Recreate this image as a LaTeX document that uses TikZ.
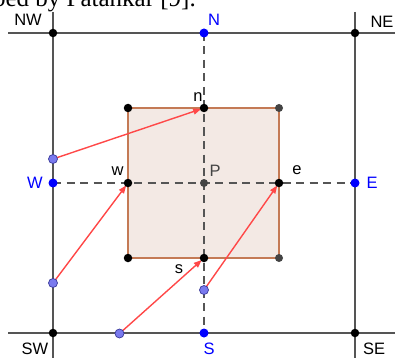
\documentclass[tikz,border=0pt]{standalone}
\usepackage{fontspec}
\setmainfont{Liberation Sans}
\newfontfamily\capfont{Liberation Serif}
\usetikzlibrary{arrows.meta}
\pgfdeclarelayer{bg}
\pgfdeclarelayer{mid}
\pgfsetlayers{bg,mid,main}
\definecolor{gridgray}{HTML}{555555}
\definecolor{cvfill}{HTML}{F3E9E4}
\definecolor{cvedge}{HTML}{C47A55}
\definecolor{arrowred}{HTML}{FF4848}
\definecolor{lav}{HTML}{7A7AEE}
\definecolor{lavedge}{HTML}{3A3A9A}
\definecolor{nodeblue}{HTML}{0000FF}
\definecolor{pgray}{HTML}{444444}
\tikzset{
  gridline/.style={draw=gridgray, line width=1.5pt},
  dashline/.style={draw=gridgray, line width=1.4pt, dash pattern=on 8pt off 5.5pt},
  cvline/.style={draw=cvedge, line width=1.9pt},
  flux/.style={draw=arrowred, line width=1.4pt, shorten >=3pt, -{Triangle[length=8pt,width=6pt]}},
  blackdot/.style={circle, fill=black, inner sep=0pt, minimum size=8.5pt},
  graydot/.style={circle, fill=pgray, inner sep=0pt, minimum size=8pt},
  bluedot/.style={circle, fill=nodeblue, inner sep=0pt, minimum size=9pt},
  lavdot/.style={circle, fill=lav, draw=lavedge, line width=0.7pt, inner sep=0pt, minimum size=9pt},
  lbl/.style={font=\fontsize{16.5}{18}\selectfont, inner sep=0pt},
  bluelbl/.style={lbl, text=nodeblue},
}
\begin{document}
\begin{tikzpicture}[x=1pt,y=-1pt]
\useasboundingbox (0,0) rectangle (395,358);
\clip (0,0) rectangle (395,358);
% caption fragment (cut by the top edge, as in the reference)
\node[anchor=base east, inner sep=0pt, font=\capfont\fontsize{25}{30}\selectfont] (cap) at (196,6.5) {described by Patankar [9].};
% free ends of the grid lines
\coordinate (Lt) at (53,12);  \coordinate (Lb) at (53,358);
\coordinate (Rt) at (355,12); \coordinate (Rb) at (355,358);
\coordinate (Tl) at (8,33);   \coordinate (Tr) at (395,33);
\coordinate (Bl) at (8,333);  \coordinate (Br) at (395,333);
% points
\node[bluedot] (N) at (204,33) {};
\node[bluedot] (S) at (204,333) {};
\node[bluedot] (W) at (53,183) {};
\node[bluedot] (E) at (355,183) {};
\node[blackdot] (NW) at (53,33) {};
\node[blackdot] (NE) at (355,33) {};
\node[blackdot] (SW) at (53,333) {};
\node[blackdot] (SE) at (355,333) {};
\node[blackdot] (n) at (204,108) {};
\node[blackdot] (s) at (204,258) {};
\node[blackdot] (w) at (128,183) {};
\node[blackdot] (e) at (279,183) {};
\node[graydot] (P) at (204,183) {};
\node[blackdot] (c1) at (128,108) {};
\node[graydot] (c2) at (279,108) {};
\node[blackdot] (c3) at (128,258) {};
\node[graydot] (c4) at (279,258) {};
\node[lavdot] (a1) at (53,159) {};
\node[lavdot] (a2) at (53,283) {};
\node[lavdot] (a3) at (119.5,333.5) {};
\node[lavdot] (a4) at (204,290) {};
% labels
\node[lbl] (lNW) at (28,20) {NW};
\node[bluelbl] (lN) at (214,20) {N};
\node[lbl] (lNE) at (382,21.5) {NE};
\node[bluelbl] (lW) at (35,182.5) {W};
\node[bluelbl] (lE) at (372,182.5) {E};
\node[lbl] (lSW) at (35,349) {SW};
\node[bluelbl] (lS) at (209,349) {S};
\node[lbl] (lSE) at (374,349) {SE};
\node[lbl] (ln) at (198,97) {n};
\node[lbl] (lw) at (117.5,171.5) {w};
\node[lbl, text=pgray] (lP) at (215,171) {P};
\node[lbl] (le) at (297,170.5) {e};
\node[lbl] (ls) at (179,269.5) {s};
% background: control volume fill and grid lines
\begin{pgfonlayer}{bg}
\fill[cvfill] (c1.center) rectangle (c4.center);
\draw[gridline] (Lt) -- (Lb);
\draw[gridline] (Rt) -- (Rb);
\draw[gridline] (Tl) -- (Tr);
\draw[gridline] (Bl) -- (Br);
\end{pgfonlayer}
\begin{pgfonlayer}{mid}
\draw[dashline] (N.center) -- (S.center);
\draw[dashline] (W.center) -- (E.center);
\draw[cvline] (c1.center) -- (c2.center) -- (c4.center) -- (c3.center) -- cycle;
\draw[flux] (a1.center) -- (n.center);
\draw[flux] (a2.center) -- (w.center);
\draw[flux] (a3.center) -- (s.center);
\draw[flux] (a4.center) -- (e.center);
\end{pgfonlayer}
\end{tikzpicture}
\end{document}
